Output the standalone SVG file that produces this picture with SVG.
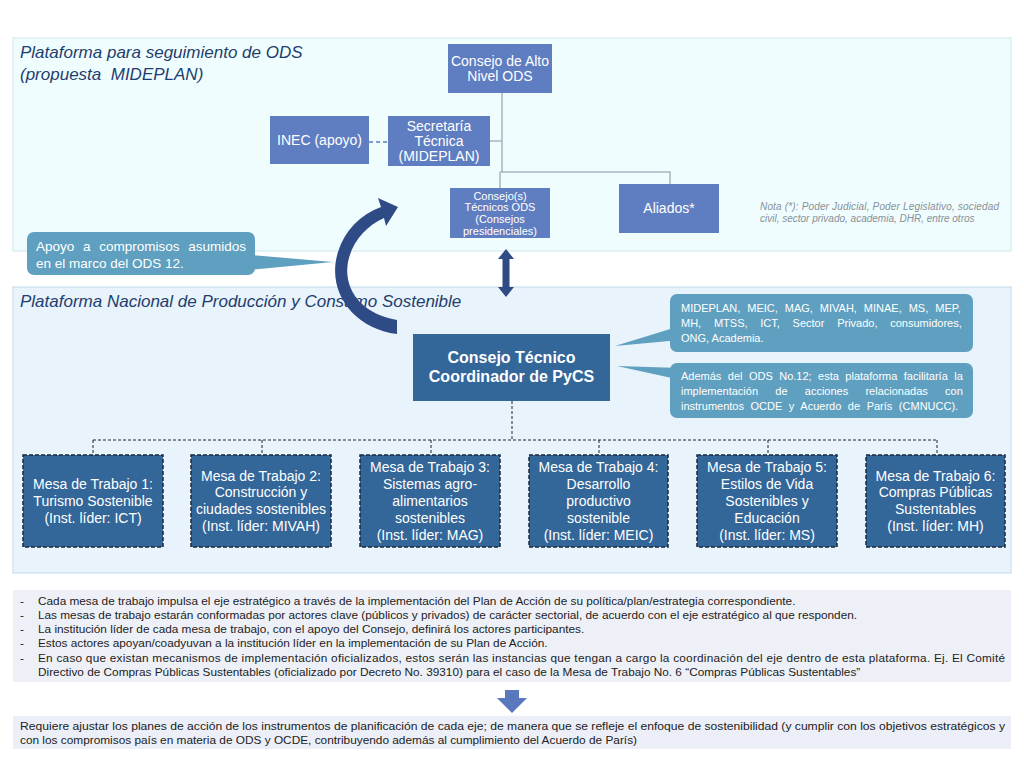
<svg xmlns="http://www.w3.org/2000/svg" width="1024" height="768" viewBox="0 0 1024 768">
<style>
text{font-family:"Liberation Sans",Arial,sans-serif}
.panel1{fill:#effdfe;stroke:#cde6ec;stroke-width:1}
.panel2{fill:#e8f3fb;stroke:#c2dbeb;stroke-width:1}
.title{font-style:italic;fill:#1f3d6e;font-size:17px}
.nodeA{fill:#5f7dc1}
.tA{fill:#fff;font-size:14px;text-anchor:middle}
.tS{fill:#fff;font-size:11px;text-anchor:middle}
.call{fill:#5f9fc0}
.tC{fill:#fff;font-size:11px}
.tC2{fill:#fff;font-size:13.5px}
.mesa{fill:#336699;stroke:#1b2a3c;stroke-width:1.5;stroke-dasharray:4 2}
.tM{fill:#fff;font-size:14px;text-anchor:middle}
.solid{stroke:#a9b5bf;stroke-width:1.5;fill:none}
.dash{stroke:#222;stroke-width:1;stroke-dasharray:3 2;fill:none}
.navy{fill:#2f4b86}
.tB{fill:#222;font-size:11.8px}
.tR{fill:#222;font-size:11px}
.nota{font-size:10px;font-style:italic;fill:#8a8f96}
</style>
<rect class="panel1" x="13" y="38" width="998" height="213"/>
<rect class="panel2" x="13" y="287" width="998" height="286"/>
<text class="title" x="20" y="58">Plataforma para seguimiento de ODS</text>
<text class="title" x="20" y="80">(propuesta&#160; MIDEPLAN)</text>
<text class="title" x="20" y="307">Plataforma Nacional de Producción y Consumo Sostenible</text>
<g id="connectors">
<path class="solid" d="M502,93 V172 M490,141 H502 M500,172 V188 M500,172 H670 V184"/>
<path d="M369,142 H388" stroke="#5f7dc1" stroke-width="1.5" stroke-dasharray="4 3" fill="none"/>
<path class="dash" d="M512,401 V440 M93,440 H937 M93,440 V455 M262,440 V455 M431,440 V455 M599,440 V455 M768,440 V455 M937,440 V455"/>
<path class="navy" d="M506,249 L514,259 L509.5,259 L509.5,287 L514,287 L506,297 L498,287 L502.5,287 L502.5,259 L498,259 Z"/>
<path class="navy" d="M397,334 C352,328 326,290 338,252 C345,230 360,215 381,207 L378,198 L398,207 L386,226 L384,218 C366,226 352,242 348,262 C343,290 362,314 397,320 Z"/>
<path d="M505,690 H519 V698 H527 L512,713 L497,698 H505 Z" fill="#5a78bd"/>
</g>
<g id="consejo-alto">
<rect class="nodeA" x="448" y="44" width="104" height="49"/>
<text class="tA" x="500" y="66">Consejo de Alto</text>
<text class="tA" x="500" y="81">Nivel ODS</text>
</g>
<g id="inec">
<rect class="nodeA" x="270" y="116" width="99" height="48"/>
<text class="tA" x="319.5" y="145">INEC (apoyo)</text>
</g>
<g id="secretaria">
<rect class="nodeA" x="388" y="116" width="102" height="50"/>
<text class="tA" x="439" y="131">Secretaría</text>
<text class="tA" x="439" y="146">Técnica</text>
<text class="tA" x="439" y="161">(MIDEPLAN)</text>
</g>
<g id="consejos-tecnicos">
<rect class="nodeA" x="450" y="188" width="100" height="50"/>
<text class="tS" x="500" y="200">Consejo(s)</text>
<text class="tS" x="500" y="211">Técnicos ODS</text>
<text class="tS" x="500" y="223">(Consejos</text>
<text class="tS" x="500" y="235">presidenciales)</text>
</g>
<g id="aliados">
<rect class="nodeA" x="619" y="184" width="100" height="49"/>
<text class="tA" x="669" y="213">Aliados*</text>
</g>
<g id="nota">
<text class="nota" x="760" y="210" textLength="239" lengthAdjust="spacing">Nota (*): Poder Judicial, Poder Legislativo, sociedad</text>
<text class="nota" x="760" y="222">civil, sector privado, academia, DHR, entre otros</text>
</g>
<g id="callout-apoyo">
<rect class="call" x="27" y="232" width="228" height="43" rx="7"/>
<path class="call" d="M250,255 L333,262 L250,270 Z"/>
<text class="tC2" x="36" y="251" word-spacing="5">Apoyo a compromisos asumidos</text>
<text class="tC2" x="36" y="268">en el marco del ODS 12.</text>
</g>
<g id="consejo-pycs">
<rect x="413" y="334" width="197" height="67" fill="#336699"/>
<text x="511.5" y="363" fill="#fff" font-size="16" font-weight="bold" text-anchor="middle">Consejo Técnico</text>
<text x="511.5" y="382" fill="#fff" font-size="16" font-weight="bold" text-anchor="middle">Coordinador de PyCS</text>
</g>
<g id="callout-actores">
<rect class="call" x="670" y="294" width="303" height="58" rx="7"/>
<path class="call" d="M680,326 L615,346 L680,340 Z"/>
<text class="tC" x="681" y="312" word-spacing="3.9">MIDEPLAN, MEIC, MAG, MIVAH, MINAE, MS, MEP,</text>
<text class="tC" x="681" y="327" word-spacing="9.7">MH, MTSS, ICT, Sector Privado, consumidores,</text>
<text class="tC" x="681" y="342">ONG, Academia.</text>
</g>
<g id="callout-ods12">
<rect class="call" x="670" y="363" width="303" height="55" rx="7"/>
<path class="call" d="M680,368 L617,366 L690,382 Z"/>
<text class="tC" x="681" y="380" word-spacing="3.4">Además del ODS No.12; esta plataforma facilitaría la</text>
<text class="tC" x="681" y="395" word-spacing="14.2">implementación de acciones relacionadas con</text>
<text class="tC" x="681" y="410" word-spacing="3.5">instrumentos OCDE y Acuerdo de París (CMNUCC).</text>
</g>
<g id="mesa1">
<rect class="mesa" x="23" y="455" width="140" height="92"/>
<text class="tM" x="93" y="489">Mesa de Trabajo 1:</text>
<text class="tM" x="93" y="506">Turismo Sostenible</text>
<text class="tM" x="93" y="523">(Inst. líder: ICT)</text>
</g>
<g id="mesa2">
<rect class="mesa" x="191" y="455" width="140" height="92"/>
<text class="tM" x="261" y="481">Mesa de Trabajo 2:</text>
<text class="tM" x="261" y="497">Construcción y</text>
<text class="tM" x="261" y="514">ciudades sostenibles</text>
<text class="tM" x="261" y="531">(Inst. líder: MIVAH)</text>
</g>
<g id="mesa3">
<rect class="mesa" x="360" y="455" width="140" height="92"/>
<text class="tM" x="430" y="472">Mesa de Trabajo 3:</text>
<text class="tM" x="430" y="489">Sistemas agro-</text>
<text class="tM" x="430" y="506">alimentarios</text>
<text class="tM" x="430" y="523">sostenibles</text>
<text class="tM" x="430" y="540">(Inst. líder: MAG)</text>
</g>
<g id="mesa4">
<rect class="mesa" x="529" y="455" width="139" height="92"/>
<text class="tM" x="598.5" y="472">Mesa de Trabajo 4:</text>
<text class="tM" x="598.5" y="489">Desarrollo</text>
<text class="tM" x="598.5" y="506">productivo</text>
<text class="tM" x="598.5" y="523">sostenible</text>
<text class="tM" x="598.5" y="540">(Inst. líder: MEIC)</text>
</g>
<g id="mesa5">
<rect class="mesa" x="697" y="455" width="140" height="92"/>
<text class="tM" x="767" y="472">Mesa de Trabajo 5:</text>
<text class="tM" x="767" y="489">Estilos de Vida</text>
<text class="tM" x="767" y="506">Sostenibles y</text>
<text class="tM" x="767" y="523">Educación</text>
<text class="tM" x="767" y="540">(Inst. líder: MS)</text>
</g>
<g id="mesa6">
<rect class="mesa" x="866" y="455" width="139" height="92"/>
<text class="tM" x="935.5" y="481">Mesa de Trabajo 6:</text>
<text class="tM" x="935.5" y="497">Compras Públicas</text>
<text class="tM" x="935.5" y="514">Sustentables</text>
<text class="tM" x="935.5" y="531">(Inst. líder: MH)</text>
</g>
<g id="notas-mesas">
<rect x="13" y="590" width="998" height="92" fill="#eef0f7"/>
<text class="tB" x="20" y="605">-</text>
<text class="tB" x="20" y="619">-</text>
<text class="tB" x="20" y="633">-</text>
<text class="tB" x="20" y="647">-</text>
<text class="tB" x="20" y="662">-</text>
<text class="tB" x="38" y="605">Cada mesa de trabajo impulsa el eje estratégico a través de la implementación del Plan de Acción de su política/plan/estrategia correspondiente.</text>
<text class="tB" x="38" y="619">Las mesas de trabajo estarán conformadas por actores clave (públicos y privados) de carácter sectorial, de acuerdo con el eje estratégico al que responden.</text>
<text class="tB" x="38" y="633">La institución líder de cada mesa de trabajo, con el apoyo del Consejo, definirá los actores participantes.</text>
<text class="tB" x="38" y="647">Estos actores apoyan/coadyuvan a la institución líder en la implementación de su Plan de Acción.</text>
<text class="tB" x="38" y="662" textLength="967" lengthAdjust="spacing">En caso que existan mecanismos de implementación oficializados, estos serán las instancias que tengan a cargo la coordinación del eje dentro de esta plataforma. Ej. El Comité</text>
<text class="tB" x="38" y="676">Directivo de Compras Públicas Sustentables (oficializado por Decreto No. 39310) para el caso de la Mesa de Trabajo No. 6 “Compras Públicas Sustentables”</text>
</g>
<g id="requiere">
<rect x="13" y="716" width="998" height="33" fill="#eceff8"/>
<text class="tR" x="20" y="730" textLength="985" lengthAdjust="spacingAndGlyphs">Requiere ajustar los planes de acción de los instrumentos de planificación de cada eje; de manera que se refleje el enfoque de sostenibilidad (y cumplir con los objetivos estratégicos y</text>
<text class="tR" x="20" y="744" textLength="617" lengthAdjust="spacingAndGlyphs">con los compromisos país en materia de ODS y OCDE, contribuyendo además al cumplimiento del Acuerdo de París)</text>
</g>
</svg>
